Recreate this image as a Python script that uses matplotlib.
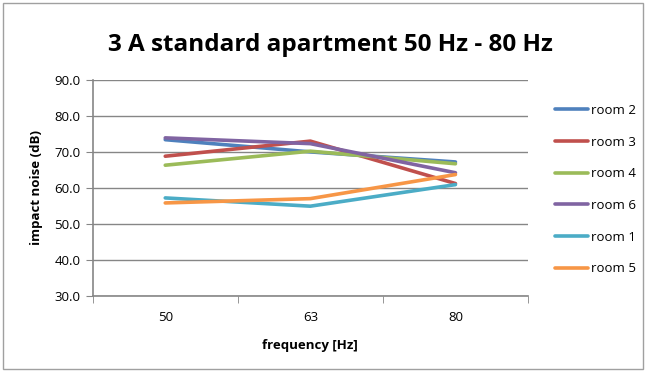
import matplotlib
matplotlib.use("Agg")
import matplotlib.pyplot as plt
from matplotlib.patches import Rectangle

categories = ["50", "63", "80"]
series_names = ["room 2", "room 3", "room 4", "room 6", "room 1", "room 5"]
room2 = [73.4, 70.0, 67.2]
room3 = [68.8, 73.0, 61.2]
room4 = [66.3, 70.2, 66.7]
room6 = [73.9, 72.3, 64.2]
room1 = [57.2, 54.9, 60.9]
room5 = [55.8, 57.0, 63.7]
series_values = [room2, room3, room4, room6, room1, room5]
colors = ["#4F81BD", "#C0504D", "#9BBB59", "#8064A2", "#4BACC6", "#F79646"]
y_ticks = [30, 40, 50, 60, 70, 80, 90]

plt.rcParams['font.family'] = ['Open Sans', 'DejaVu Sans']

fig = plt.figure(figsize=(6.46, 3.72), dpi=100)
fig.patches.append(Rectangle((3/646, 3/372), 640/646, 366/372, transform=fig.transFigure,
                             fill=False, edgecolor="#A0A0A0", linewidth=1.0))

ax = fig.add_axes([92.7/646, 1-295.7/372, (528-92.7)/646, (295.7-80)/372])
x = list(range(len(categories)))
for name, vals, c in zip(series_names, series_values, colors):
    ax.plot(x, vals, color=c, linewidth=2.6, label=name, solid_capstyle='round')

ax.set_xlim(-0.5, len(categories) - 0.5)
ax.set_ylim(30, 90)
ax.set_yticks(y_ticks)
ax.set_yticklabels([f"{v:.1f}" for v in y_ticks])
ax.set_xticks(x)
ax.set_xticklabels(categories)
ax.set_xticks([i - 0.5 for i in range(len(categories) + 1)], minor=True)
ax.tick_params(axis='x', which='major', length=0, pad=11, labelsize=9.5)
ax.tick_params(axis='x', which='minor', length=5, color="#868686", direction='out')
ax.tick_params(axis='y', length=5, color="#868686", direction='out', labelsize=9.5, pad=4)
ax.grid(axis='y', color="#868686", linewidth=1.0)
ax.set_axisbelow(True)
for s in ['top', 'right']:
    ax.spines[s].set_visible(False)
for s in ['left', 'bottom']:
    ax.spines[s].set_color("#868686")
    ax.spines[s].set_linewidth(1.2)

ax.set_xlabel("frequency [Hz]", fontsize=9.5, fontweight='bold', labelpad=11)
ax.set_ylabel("impact noise (dB)", fontsize=9.5, fontweight='bold', labelpad=8)

fig.text(330/646, 1-45/372, "3 A standard apartment 50 Hz - 80 Hz", ha='center', va='center',
         fontsize=17.5, fontweight='bold')

leg = ax.legend(loc='upper left', bbox_to_anchor=(550/646, 1-98.5/372), bbox_transform=fig.transFigure,
                frameon=False, fontsize=9.5, handlelength=2.5, handletextpad=0.2,
                labelspacing=1.42, borderaxespad=0)

fig.savefig("out.png", dpi=100)
